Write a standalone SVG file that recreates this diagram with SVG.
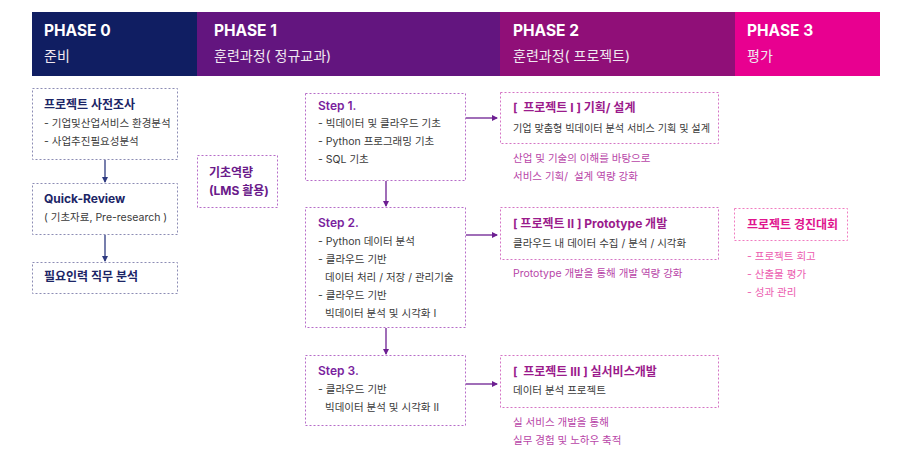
<svg xmlns="http://www.w3.org/2000/svg" width="900" height="455" viewBox="0 0 900 455">
<defs>
<style>
text{font-family:"Inter","Noto Sans CJK KR","Noto Sans",sans-serif;}
.ph{font-size:15.5px;font-weight:700;fill:#fff;}
.phs{font-size:14px;fill:#f0e8f0;}
.box0{fill:#fff;stroke:#8c8cb4;stroke-width:1;stroke-dasharray:2 2;}
.box1{fill:#fff;stroke:#b66cc8;stroke-width:1;stroke-dasharray:2 2;}
.box2{fill:#fff;stroke:#d574c4;stroke-width:1;stroke-dasharray:2 2;}
.box3{fill:#fff;stroke:#f07cc0;stroke-width:1;stroke-dasharray:2 2;}
.t0{font-size:12px;font-weight:700;fill:#1c2566;}
.t1{font-size:12px;font-weight:600;fill:#7a1f9e;}
.t2{font-size:12px;font-weight:700;fill:#9b1b8c;}
.t3{font-size:12px;font-weight:700;fill:#e0158e;}
.b{font-size:10.5px;fill:#3a3a3a;}
.n2{font-size:10.5px;fill:#b845a8;}
.n3{font-size:10.5px;fill:#ec5cb0;}
.c0{stroke:#2e3a80;stroke-width:1.3;fill:none;}
.c1{stroke:#6d1f92;stroke-width:1.3;fill:none;}
</style>
<marker id="a0" markerWidth="6" markerHeight="6" refX="5" refY="3" orient="auto" markerUnits="userSpaceOnUse"><path d="M0,0 L6,3 L0,6 z" fill="#2e3a80"/></marker>
<marker id="a1" markerWidth="6" markerHeight="6" refX="5" refY="3" orient="auto" markerUnits="userSpaceOnUse"><path d="M0,0 L6,3 L0,6 z" fill="#6d1f92"/></marker>
</defs>

<g id="header">
<rect x="32" y="12" width="165" height="64" fill="#101e62"/>
<rect x="197" y="12" width="303" height="64" fill="#63157f"/>
<rect x="500" y="12" width="235" height="64" fill="#900f78"/>
<rect x="735" y="12" width="145" height="64" fill="#e80090"/>
<text class="ph" x="44" y="36">PHASE 0</text>
<text class="phs" x="44" y="61">준비</text>
<text class="ph" x="214" y="36">PHASE 1</text>
<text class="phs" x="214" y="61">훈련과정( 정규교과)</text>
<text class="ph" x="513" y="36">PHASE 2</text>
<text class="phs" x="513" y="61">훈련과정( 프로젝트)</text>
<text class="ph" x="747" y="36">PHASE 3</text>
<text class="phs" x="747" y="61">평가</text>
</g>

<g id="connectors">
<line class="c0" x1="105" y1="160" x2="105" y2="182" marker-end="url(#a0)"/>
<line class="c0" x1="105" y1="235" x2="105" y2="261" marker-end="url(#a0)"/>
<line class="c1" x1="386" y1="181" x2="386" y2="206" marker-end="url(#a1)"/>
<line class="c1" x1="386" y1="328" x2="386" y2="354" marker-end="url(#a1)"/>
<line class="c1" x1="466" y1="118" x2="497" y2="118" marker-end="url(#a1)"/>
<line class="c1" x1="466" y1="235" x2="497" y2="235" marker-end="url(#a1)"/>
<line class="c1" x1="466" y1="384" x2="497" y2="384" marker-end="url(#a1)"/>
</g>

<g id="n-survey">
<rect class="box0" x="32.5" y="88.5" width="145" height="71"/>
<text class="t0" x="44" y="109">프로젝트 사전조사</text>
<text class="b" x="44" y="127">- 기업및산업서비스 환경분석</text>
<text class="b" x="44" y="145">- 사업추진필요성분석</text>
</g>
<g id="n-quick">
<rect class="box0" x="32.5" y="183.5" width="145" height="51"/>
<text class="t0" x="44" y="203">Quick-Review</text>
<text class="b" x="44" y="221">( 기초자료, Pre-research )</text>
</g>
<g id="n-job">
<rect class="box0" x="32.5" y="262.5" width="145" height="31"/>
<text class="t0" x="44" y="281">필요인력 직무 분석</text>
</g>

<g id="n-basic">
<rect class="box1" x="197.5" y="155.5" width="80" height="52"/>
<text class="t1" x="209" y="177" style="fill:#6a1a8a;font-weight:700">기초역량</text>
<text class="t1" x="209" y="195" style="fill:#6a1a8a;font-weight:700">(LMS 활용)</text>
</g>

<g id="n-step1">
<rect class="box1" x="305.5" y="93.5" width="160" height="87"/>
<text class="t1" x="318" y="110">Step 1.</text>
<text class="b" x="318" y="127">- 빅데이터 및 클라우드 기초</text>
<text class="b" x="318" y="145">- Python 프로그래밍 기초</text>
<text class="b" x="318" y="163">- SQL 기초</text>
</g>
<g id="n-step2">
<rect class="box1" x="305.5" y="207.5" width="160" height="120"/>
<text class="t1" x="318" y="227">Step 2.</text>
<text class="b" x="318" y="245">- Python 데이터 분석</text>
<text class="b" x="318" y="263">- 클라우드 기반</text>
<text class="b" x="325" y="281">데이터 처리 / 저장 / 관리기술</text>
<text class="b" x="318" y="299">- 클라우드 기반</text>
<text class="b" x="325" y="317">빅데이터 분석 및 시각화 I</text>
</g>
<g id="n-step3">
<rect class="box1" x="305.5" y="355.5" width="160" height="70"/>
<text class="t1" x="318" y="375">Step 3.</text>
<text class="b" x="318" y="393">- 클라우드 기반</text>
<text class="b" x="325" y="411">빅데이터 분석 및 시각화 II</text>
</g>

<g id="n-proj1">
<rect class="box2" x="500.5" y="92.5" width="218" height="51"/>
<text class="t2" x="513" y="112" xml:space="preserve">[  프로젝트 I ] 기획/ 설계</text>
<text class="b" x="513" y="132" textLength="197" lengthAdjust="spacingAndGlyphs">기업 맞춤형 빅데이터 분석 서비스 기획 및 설계</text>
<text class="n2" x="513" y="162">산업 및 기술의 이해를 바탕으로</text>
<text class="n2" x="513" y="180" xml:space="preserve">서비스 기획/  설계 역량 강화</text>
</g>
<g id="n-proj2">
<rect class="box2" x="500.5" y="207.5" width="218" height="52"/>
<text class="t2" x="513" y="228">[ 프로젝트 II ] Prototype 개발</text>
<text class="b" x="513" y="247">클라우드 내 데이터 수집 / 분석 / 시각화</text>
<text class="n2" x="513" y="277">Prototype 개발을 통해 개발 역량 강화</text>
</g>
<g id="n-proj3">
<rect class="box2" x="500.5" y="355.5" width="218" height="52"/>
<text class="t2" x="513" y="376" xml:space="preserve">[  프로젝트 III ] 실서비스개발</text>
<text class="b" x="513" y="394">데이터 분석 프로젝트</text>
<text class="n2" x="513" y="426">실 서비스 개발을 통해</text>
<text class="n2" x="513" y="444">실무 경험 및 노하우 축적</text>
</g>

<g id="n-contest">
<rect class="box3" x="734.5" y="208.5" width="113" height="32"/>
<text class="t3" x="747" y="229">프로젝트 경진대회</text>
<text class="n3" x="747" y="260">- 프로젝트 회고</text>
<text class="n3" x="747" y="278">- 산출물 평가</text>
<text class="n3" x="747" y="296">- 성과 관리</text>
</g>
</svg>
